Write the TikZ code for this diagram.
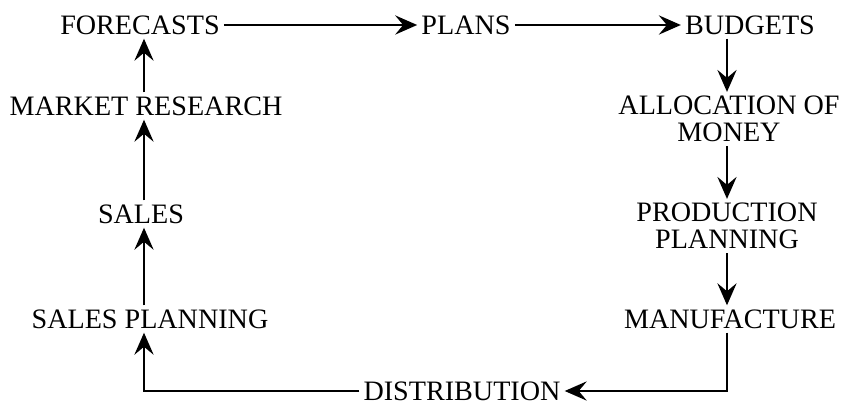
\documentclass[tikz,border=0pt]{standalone}
\usepackage{fontspec}
\setmainfont{Liberation Serif}
\usetikzlibrary{arrows.meta}

\begin{document}
\begin{tikzpicture}[x=0.025cm, y=-0.025cm,
    box/.style = {font=\fontsize{20}{19}\selectfont, inner sep=0.1cm, align=center},
    flow/.style = {-{Stealth[length=0.55cm, width=0.48cm, inset=0.2cm]}, line width=0.055cm}]
      \useasboundingbox (0,0) rectangle (843,407);

      \coordinate (lcol) at (144,0);
      \coordinate (rcol) at (727,0);

      \node[box] (forecasts) at (140,25) {FORECASTS};
      \node[box] (plans) at (466,25) {PLANS};
      \node[box] (budgets) at (750,25) {BUDGETS};
      \node[box] (alloc) at (729,119) {ALLOCATION OF\\MONEY};
      \node[box] (prodplan) at (727,226) {PRODUCTION\\PLANNING};
      \node[box] (manuf) at (730,319) {MANUFACTURE};
      \node[box] (distrib) at (462,391) {DISTRIBUTION};
      \node[box] (salesplan) at (150,319) {SALES PLANNING};
      \node[box] (sales) at (141,214) {SALES};
      \node[box] (market) at (146,106) {MARKET RESEARCH};

      \draw[flow] (forecasts) -- (plans);
      \draw[flow] (plans) -- (budgets);

      \draw[flow] (budgets.south -| rcol) -- (alloc.north -| rcol);
      \draw[flow] (alloc.south -| rcol) -- (prodplan.north -| rcol);
      \draw[flow] (prodplan.south -| rcol) -- (manuf.north -| rcol);
      \draw[flow] (manuf.south -| rcol) |- (distrib.east);

      \draw[flow] (distrib.west) -| (salesplan.south -| lcol);
      \draw[flow] (salesplan.north -| lcol) -- (sales.south -| lcol);
      \draw[flow] (sales.north -| lcol) -- (market.south -| lcol);
      \draw[flow] (market.north -| lcol) -- (forecasts.south -| lcol);
    \end{tikzpicture}
\end{document}
